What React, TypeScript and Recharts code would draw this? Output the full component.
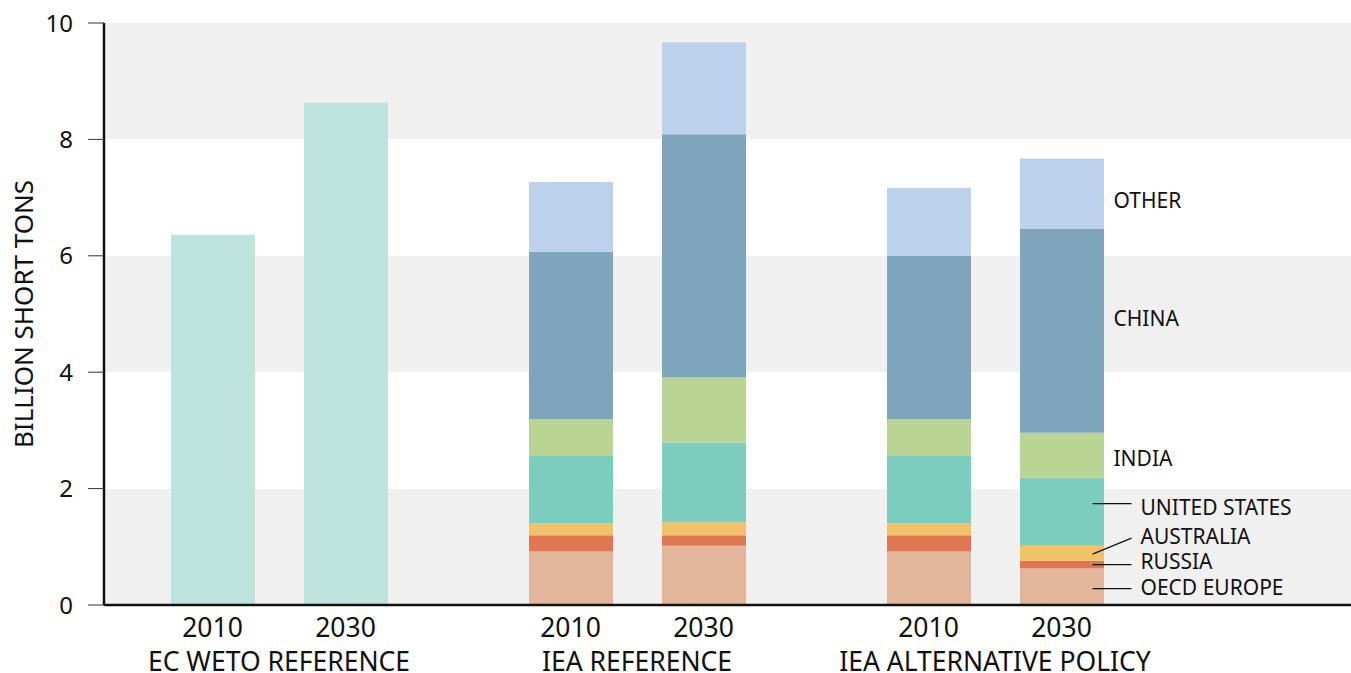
import { BarChart, Bar, XAxis, YAxis, CartesianGrid, ReferenceDot } from "recharts";

const scenarios = ["EC WETO REFERENCE", "IEA REFERENCE", "IEA ALTERNATIVE POLICY"];
const years = ["2010", "2030"];
const yTicks = [0, 2, 4, 6, 8, 10];

// billion short tons, one entry per scenario
const weto2010 = [6.36, 0, 0];
const oecd2010 = [0, 0.92, 0.92];
const russia2010 = [0, 0.28, 0.28];
const australia2010 = [0, 0.21, 0.21];
const us2010 = [0, 1.15, 1.15];
const india2010 = [0, 0.63, 0.63];
const china2010 = [0, 2.88, 2.81];
const other2010 = [0, 1.2, 1.17];

const weto2030 = [8.63, 0, 0];
const oecd2030 = [0, 1.02, 0.63];
const russia2030 = [0, 0.18, 0.13];
const australia2030 = [0, 0.22, 0.26];
const us2030 = [0, 1.37, 1.17];
const india2030 = [0, 1.12, 0.77];
const china2030 = [0, 4.18, 3.5];
const other2030 = [0, 1.58, 1.21];

const values2010 = { weto: weto2010, oecd: oecd2010, russia: russia2010, australia: australia2010, us: us2010, india: india2010, china: china2010, other: other2010 };
const values2030 = { weto: weto2030, oecd: oecd2030, russia: russia2030, australia: australia2030, us: us2030, india: india2030, china: china2030, other: other2030 };

const regions = [
  { key: "weto", label: "", color: "#bee3dc" },
  { key: "oecd", label: "OECD EUROPE", color: "#e3b59b", leader: true, lineDy: 2, textDy: 1 },
  { key: "russia", label: "RUSSIA", color: "#df7850", leader: true, lineDy: 0, textDy: -3 },
  { key: "australia", label: "AUSTRALIA", color: "#f0c36b", leader: true, lineDy: 1, lineEndDy: -16, textDy: -17 },
  { key: "us", label: "UNITED STATES", color: "#7dcdbf", leader: true, lineDy: -8, textDy: -4 },
  { key: "india", label: "INDIA", color: "#b9d493", textDy: 3 },
  { key: "china", label: "CHINA", color: "#7ea5bc", textDy: -12 },
  { key: "other", label: "OTHER", color: "#bbd1ec", textDy: 7 },
];

const data = scenarios.map((name, i) => {
  const row: any = { name };
  regions.forEach((r) => {
    row[`${r.key}_2010`] = values2010[r.key][i];
    row[`${r.key}_2030`] = values2030[r.key][i];
  });
  return row;
});

// region labels sit beside the last 2030 stack, at the middle of each segment
const last = scenarios.length - 1;
let running = 0;
const labelAnchors = regions
  .map((r) => {
    const v = values2030[r.key][last];
    const mid = running + v / 2;
    running += v;
    return { ...r, mid };
  })
  .filter((r) => r.label);

const BAR = 84;
const GAP = 49;
const FONT = "'Noto Sans', 'Open Sans', sans-serif";

const ScenarioTick = (props: any) => {
  const { x, y, payload } = props;
  const half = (BAR + GAP) / 2;
  return (
    <g fill="#111" fontSize={26.5} textAnchor="middle">
      <text x={x - half} y={y + 32}>{years[0]}</text>
      <text x={x + half} y={y + 32}>{years[1]}</text>
      <text x={x} y={y + 66}>{payload.value}</text>
    </g>
  );
};

const makeShape = (r: any) => (props: any) => {
  const { cx, cy } = props;
  const right = cx + (BAR + GAP) / 2 + BAR / 2;
  if (r.leader) {
    const ly = cy + (r.lineDy || 0);
    return (
      <g>
        <line x1={right - 11} y1={ly} x2={right + 28} y2={ly + (r.lineEndDy || 0)} stroke="#111" strokeWidth={1.3} />
        <text x={right + 37} y={cy + r.textDy} dy="0.36em" fontSize={21} fill="#111">{r.label}</text>
      </g>
    );
  }
  return (
    <text x={right + 10} y={cy + r.textDy} dy="0.36em" fontSize={21} fill="#111">
      {r.label}
    </text>
  );
};

export default function App() {
  return (
    <div style={{ position: "absolute", left: 0, top: 0, fontFamily: FONT }}>
      <BarChart
        width={1351}
        height={673}
        data={data}
        margin={{ top: 23, right: 0, bottom: 0, left: 0 }}
        barSize={BAR}
        barGap={GAP}
      >
        <CartesianGrid
          vertical={false}
          stroke="none"
          horizontalFill={["#f0f0f0", "#ffffff"]}
          fillOpacity={1}
        />
        <XAxis
          dataKey="name"
          height={68}
          padding={{ left: -4, right: 177 }}
          interval={0}
          tickLine={false}
          tickSize={0}
          tickMargin={0}
          axisLine={{ stroke: "#111", strokeWidth: 2.5 }}
          tick={<ScenarioTick />}
        />
        <YAxis
          width={104}
          domain={[0, 10]}
          ticks={yTicks}
          interval={0}
          tickSize={16}
          tickMargin={15}
          axisLine={{ stroke: "#111", strokeWidth: 2.5 }}
          tickLine={{ stroke: "#333", strokeWidth: 1 }}
          tick={{ fontSize: 24, fill: "#111" }}
          label={{
            value: "BILLION SHORT TONS",
            angle: -90,
            position: "insideLeft",
            offset: 24,
            fontSize: 26,
            fill: "#111",
            style: { textAnchor: "middle" },
          }}
        />
        {regions.map((r) => (
          <Bar
            key={`${r.key}_2010`}
            dataKey={`${r.key}_2010`}
            stackId="y2010"
            fill={r.color}
            isAnimationActive={false}
          />
        ))}
        {regions.map((r) => (
          <Bar
            key={`${r.key}_2030`}
            dataKey={`${r.key}_2030`}
            stackId="y2030"
            fill={r.color}
            isAnimationActive={false}
          />
        ))}
        {labelAnchors.map((r) => (
          <ReferenceDot
            key={`lbl_${r.key}`}
            x={scenarios[last]}
            y={r.mid}
            r={0}
            shape={makeShape(r)}
          />
        ))}
      </BarChart>
    </div>
  );
}
